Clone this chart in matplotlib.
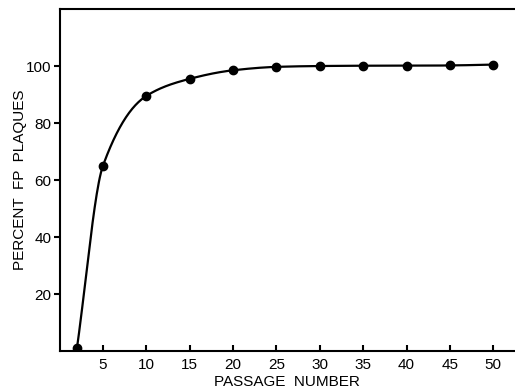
import matplotlib
matplotlib.use("Agg")
import matplotlib.pyplot as plt
import numpy as np

plt.rcParams["font.family"] = ["Liberation Sans", "DejaVu Sans"]

passage = [2, 5, 10, 15, 20, 25, 30, 35, 40, 45, 50]
percent_fp = [1, 65, 89.5, 95.5, 98.5, 99.7, 100, 100.1, 100.1, 100.2, 100.5]


def pchip(x, y, xs):
    # monotone cubic through the points, for the hand-drawn smooth curve
    x = np.asarray(x, float)
    y = np.asarray(y, float)
    h = np.diff(x)
    d = np.diff(y) / h
    m = np.zeros_like(y)
    for k in range(1, len(x) - 1):
        if d[k - 1] * d[k] > 0:
            w1 = 2 * h[k] + h[k - 1]
            w2 = h[k] + 2 * h[k - 1]
            m[k] = (w1 + w2) / (w1 / d[k - 1] + w2 / d[k])
    m[0] = d[0]
    m[-1] = d[-1]
    out = np.empty_like(xs)
    for i, xv in enumerate(xs):
        k = min(np.searchsorted(x, xv, side="right") - 1, len(x) - 2)
        t = (xv - x[k]) / h[k]
        h00 = 2 * t**3 - 3 * t**2 + 1
        h10 = t**3 - 2 * t**2 + t
        h01 = -2 * t**3 + 3 * t**2
        h11 = t**3 - t**2
        out[i] = h00 * y[k] + h10 * h[k] * m[k] + h01 * y[k + 1] + h11 * h[k] * m[k + 1]
    return out


fig = plt.figure(figsize=(5.15, 3.92), dpi=100)
ax = fig.add_axes([0.1157, 0.1046, 0.8843, 0.8724])

xs = np.linspace(passage[0], passage[-1], 400)
ax.plot(xs, pchip(passage, percent_fp, xs), color="black", lw=1.6)
ax.plot(passage, percent_fp, "o", color="black", ms=6)

ax.set_xlim(0, 52.5)
ax.set_ylim(0, 120)
ax.set_xticks(range(5, 51, 5))
ax.set_yticks([20, 40, 60, 80, 100])
ax.tick_params(axis="x", direction="in", length=4, width=1.5, labelsize=11, pad=5)
ax.tick_params(axis="y", direction="out", length=4, width=1.5, labelsize=11, pad=2)
for side in ["left", "bottom", "top"]:
    ax.spines[side].set_linewidth(1.5)
ax.spines["right"].set_visible(False)

ax.set_xlabel("PASSAGE  NUMBER", fontsize=11, labelpad=2)
ax.set_ylabel("PERCENT  FP  PLAQUES", fontsize=11, labelpad=-1)

fig.savefig("out.png", dpi=100)
